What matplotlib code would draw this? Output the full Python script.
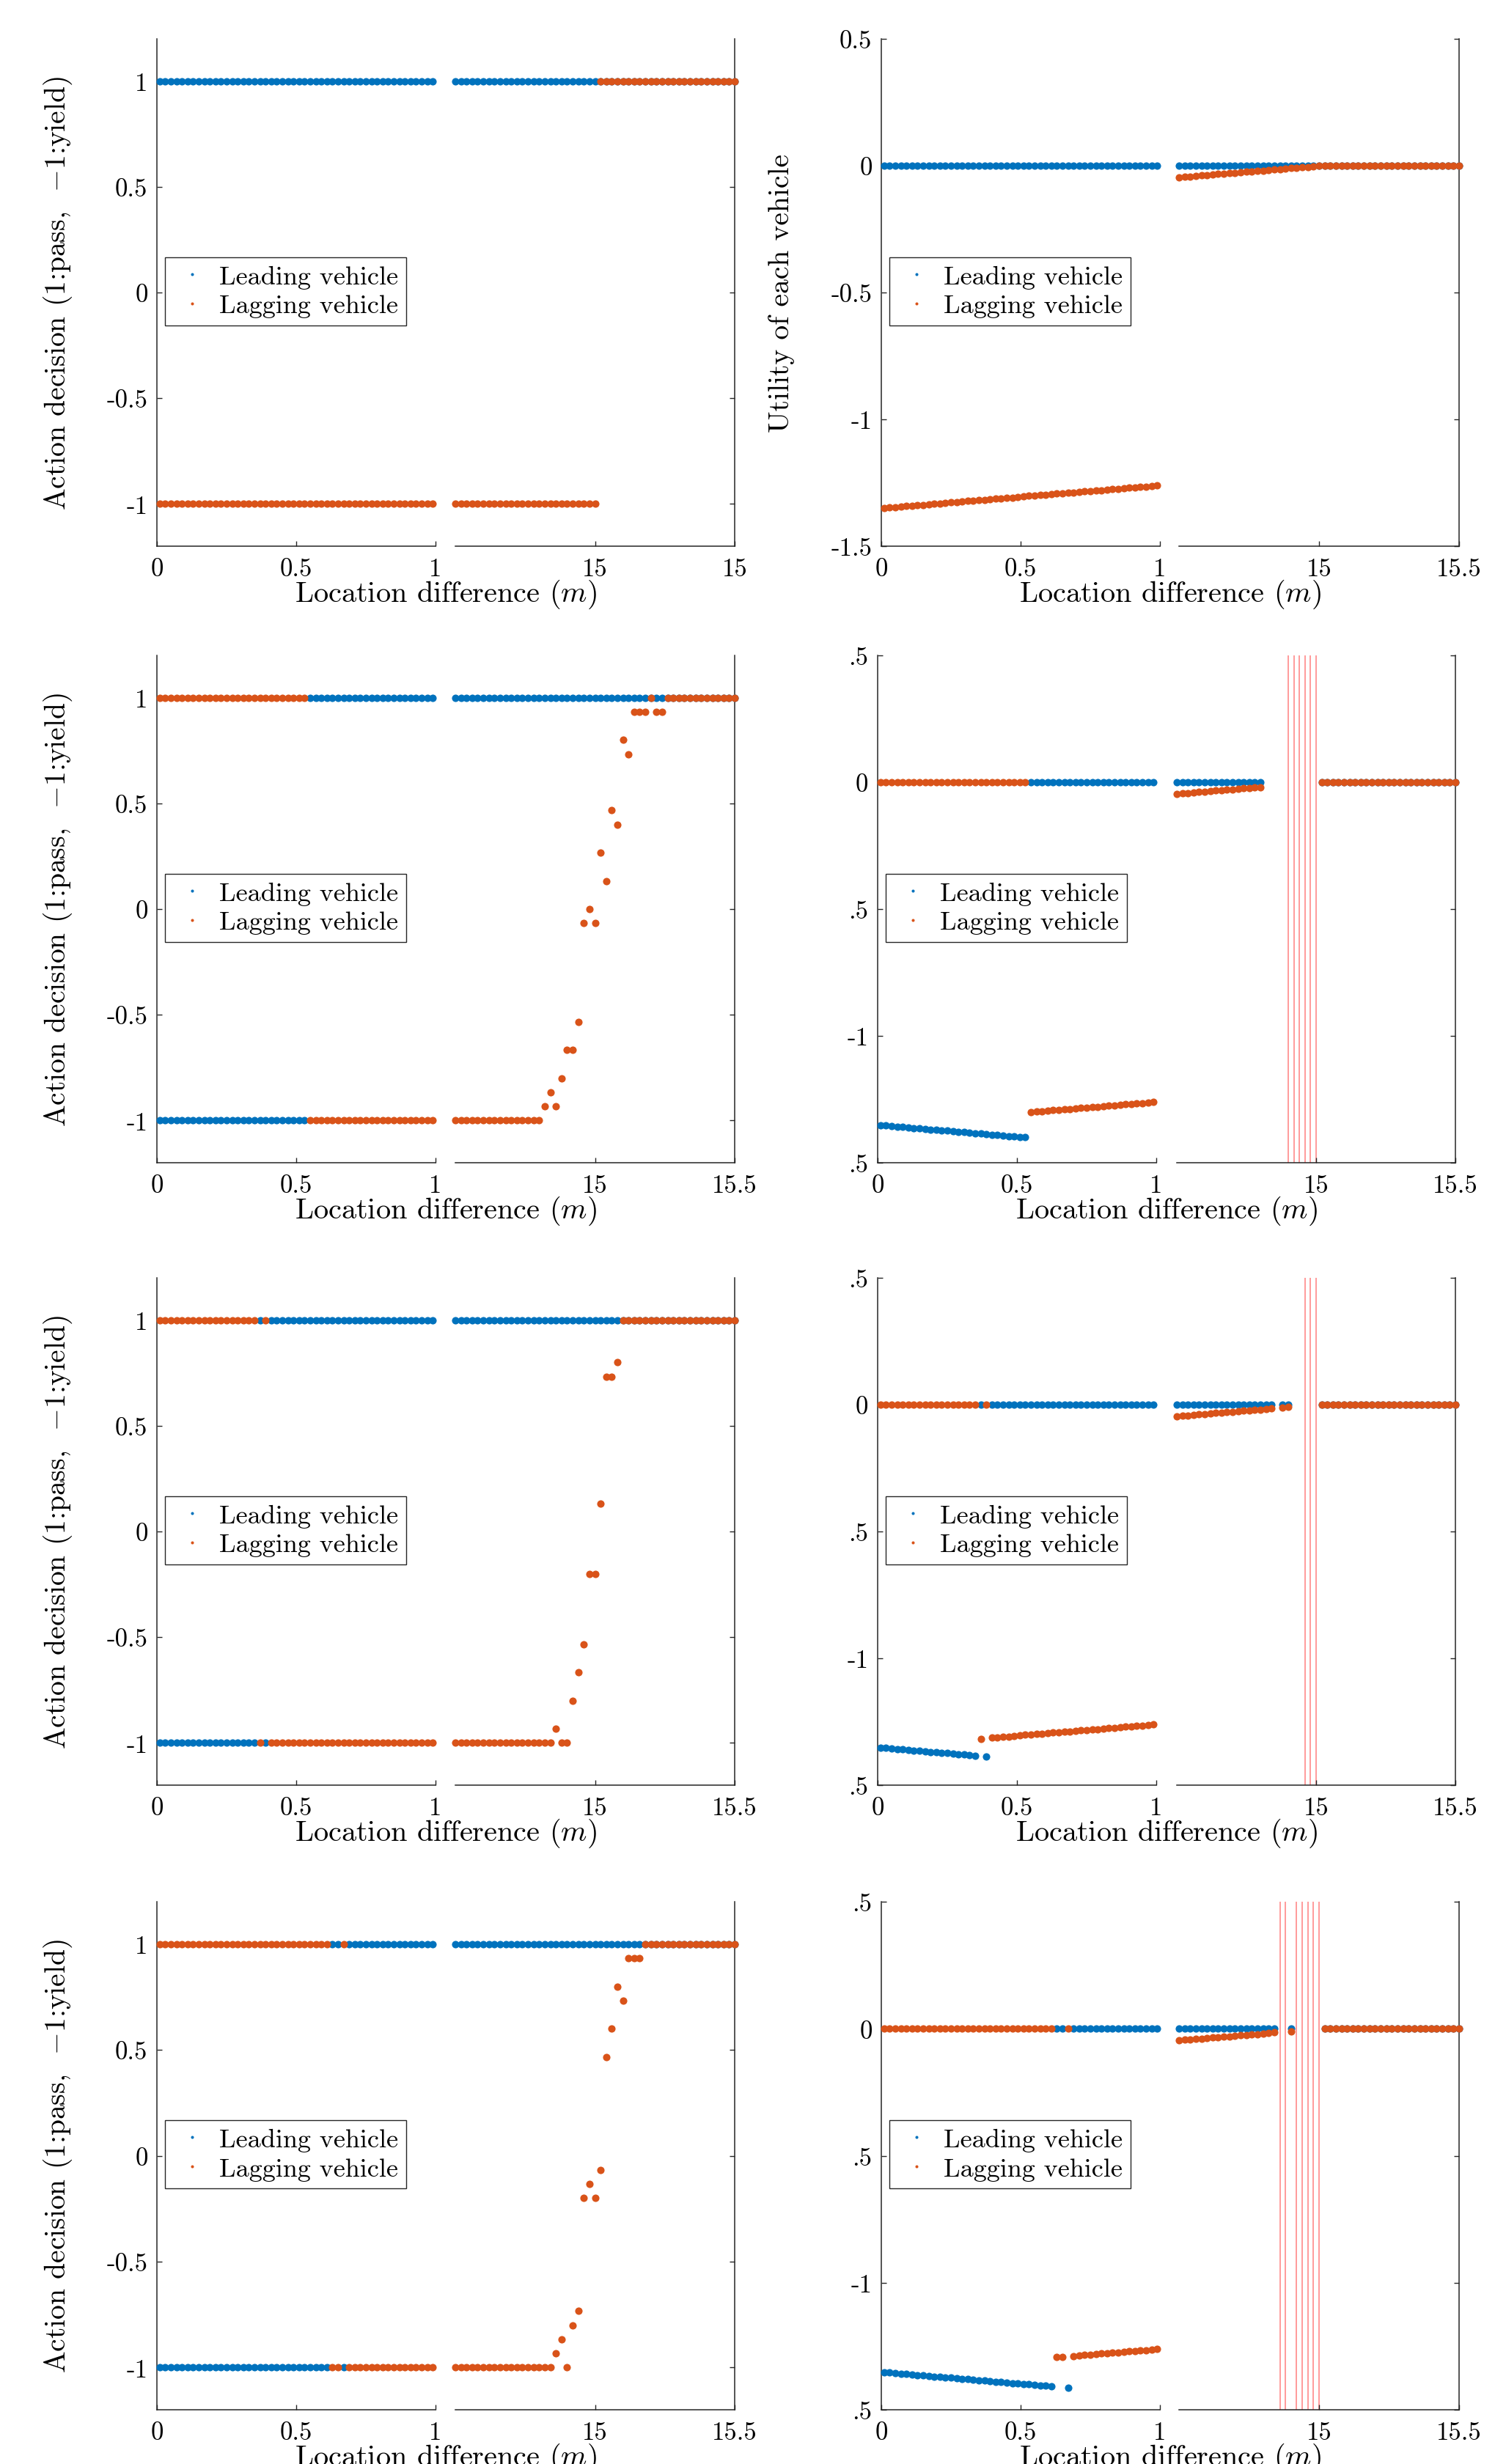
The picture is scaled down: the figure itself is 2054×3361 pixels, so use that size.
import numpy as np
import matplotlib
matplotlib.use('Agg')
import matplotlib.pyplot as plt

plt.rcParams['font.family'] = ['cmr10', 'DejaVu Serif']
plt.rcParams['mathtext.fontset'] = 'cm'
plt.rcParams['axes.unicode_minus'] = False
plt.rcParams['axes.formatter.use_mathtext'] = True

BLUE = '#0072BD'
ORANGE = '#D95319'
RED = '#FF8080'
DARK = '#262626'
nan = np.nan

# ---------------- data ----------------
x_left = [round(0.01 + 0.02 * i, 2) for i in range(50)]      # 0.01 .. 0.99
x_right = [round(14.5 + 0.02 * i, 2) for i in range(51)]     # 14.50 .. 15.50

LEAD_YIELD_UTIL_L = [-1.352, -1.354, -1.356, -1.358, -1.359, -1.361, -1.363, -1.365, -1.367, -1.369,
                     -1.371, -1.372, -1.374, -1.376, -1.378, -1.380, -1.382, -1.384, -1.385, -1.387,
                     -1.389, -1.391, -1.393, -1.395, -1.397, -1.398, -1.400, -1.402, -1.404, -1.406,
                     -1.408, -1.410, -1.411, -1.413]
LAG_YIELD_UTIL_L = [-1.349, -1.347, -1.346, -1.344, -1.342, -1.340, -1.338, -1.337, -1.335, -1.333,
                    -1.331, -1.329, -1.328, -1.326, -1.324, -1.322, -1.320, -1.319, -1.317, -1.315,
                    -1.313, -1.311, -1.310, -1.308, -1.306, -1.304, -1.302, -1.301, -1.299, -1.297,
                    -1.295, -1.293, -1.292, -1.290, -1.288, -1.286, -1.284, -1.283, -1.281, -1.279,
                    -1.277, -1.275, -1.274, -1.272, -1.270, -1.268, -1.266, -1.265, -1.263, -1.261]
LAG_YIELD_UTIL_R = [-0.046, -0.044, -0.042, -0.041, -0.039, -0.037, -0.035, -0.033, -0.032, -0.030,
                    -0.028, -0.026, -0.024, -0.023, -0.021, -0.019, -0.017, -0.015, -0.014, -0.012,
                    -0.010, -0.008, -0.006, -0.005, -0.003, -0.001]

# Row 1
dec1_lead_L = [1] * 50
dec1_lag_L = [-1] * 50
dec1_lead_R = [1] * 51
dec1_lag_R = [-1] * 26 + [1] * 25
ut1_lead_L = [0] * 50
ut1_lag_L = LAG_YIELD_UTIL_L
ut1_lead_R = [0] * 51
ut1_lag_R = LAG_YIELD_UTIL_R + [0] * 25
red1 = []

# Row 2
dec2_lead_L = [-1] * 27 + [1] * 23
dec2_lag_L = [1] * 27 + [-1] * 23
dec2_lead_R = [1] * 51
dec2_lag_R = [-1] * 16 + [-0.933, -0.867, -0.933, -0.8, -0.667, -0.667, -0.533, -0.067, 0, -0.067,
                          0.267, 0.133, 0.467, 0.4, 0.8, 0.733, 0.933, 0.933, 0.933, 1, 0.933, 0.933] + [1] * 13
ut2_lead_L = LEAD_YIELD_UTIL_L[:27] + [0] * 23
ut2_lag_L = [0] * 27 + LAG_YIELD_UTIL_L[27:]
ut2_lead_R = [0] * 16 + [nan] * 10 + [0] * 25
ut2_lag_R = LAG_YIELD_UTIL_R[:16] + [nan] * 10 + [0] * 25
red2 = [14.90, 14.92, 14.94, 14.96, 14.98, 15.00]

# Row 3
dec3_lead_L = [-1] * 18 + [1] + [-1] + [1] * 30
dec3_lag_L = [1] * 18 + [-1] + [1] + [-1] * 30
dec3_lead_R = [1] * 51
dec3_lag_R = [-1] * 18 + [-0.933, -1, -1, -0.8, -0.667, -0.533, -0.2, -0.2, 0.133, 0.733, 0.733, 0.8] + [1] * 21
ut3_lead_L = LEAD_YIELD_UTIL_L[:18] + [0] + [LEAD_YIELD_UTIL_L[19]] + [0] * 30
ut3_lag_L = [0] * 18 + [LAG_YIELD_UTIL_L[18]] + [0] + LAG_YIELD_UTIL_L[20:]
ut3_lead_R = [0] * 18 + [nan] + [0, 0] + [nan] * 5 + [0] * 25
ut3_lag_R = LAG_YIELD_UTIL_R[:18] + [nan] + LAG_YIELD_UTIL_R[19:21] + [nan] * 5 + [0] * 25
red3 = [14.96, 14.98, 15.00]

# Row 4
dec4_lead_L = [-1] * 31 + [1, 1] + [-1] + [1] * 16
dec4_lag_L = [1] * 31 + [-1, -1] + [1] + [-1] * 16
dec4_lead_R = [1] * 51
dec4_lag_R = [-1] * 18 + [-0.933, -0.867, -1, -0.8, -0.733, -0.2, -0.133, -0.2, -0.067, 0.467,
                          0.6, 0.8, 0.733, 0.933, 0.933, 0.933] + [1] * 17
ut4_lead_L = LEAD_YIELD_UTIL_L[:31] + [0, 0] + [LEAD_YIELD_UTIL_L[33]] + [0] * 16
ut4_lag_L = [0] * 31 + LAG_YIELD_UTIL_L[31:33] + [0] + LAG_YIELD_UTIL_L[34:]
ut4_lead_R = [0] * 18 + [nan, nan] + [0] + [nan] * 5 + [0] * 25
ut4_lag_R = LAG_YIELD_UTIL_R[:18] + [nan, nan] + [LAG_YIELD_UTIL_R[20]] + [nan] * 5 + [0] * 25
red4 = [14.86, 14.88, 14.92, 14.94, 14.96, 14.98, 15.00]

dec_rows = [
    (dec1_lead_L, dec1_lag_L, dec1_lead_R, dec1_lag_R),
    (dec2_lead_L, dec2_lag_L, dec2_lead_R, dec2_lag_R),
    (dec3_lead_L, dec3_lag_L, dec3_lead_R, dec3_lag_R),
    (dec4_lead_L, dec4_lag_L, dec4_lead_R, dec4_lag_R),
]
ut_rows = [
    (ut1_lead_L, ut1_lag_L, ut1_lead_R, ut1_lag_R),
    (ut2_lead_L, ut2_lag_L, ut2_lead_R, ut2_lag_R),
    (ut3_lead_L, ut3_lag_L, ut3_lead_R, ut3_lag_R),
    (ut4_lead_L, ut4_lag_L, ut4_lead_R, ut4_lag_R),
]
red_rows = [red1, red2, red3, red4]

dec_yticks = [-1, -0.5, 0, 0.5, 1]
dec_yticklabels = ['-1', '-0.5', '0', '0.5', '1']
ut_yticks = [-1.5, -1, -0.5, 0, 0.5]
ut_yticklabels_full = ['-1.5', '-1', '-0.5', '0', '0.5']
ut_yticklabels_cut = ['.5', '-1', '.5', '0', '.5']
xl_ticks = [0, 0.5, 1]
xl_labels = ['0', '0.5', '1']
xr_ticks = [15, 15.5]

legend_labels = ['Leading vehicle', 'Lagging vehicle']
xlabel_text = r'Location difference $(m)$'
ylabel_dec = r'Action decision (1:pass,  $-$1:yield)'
ylabel_ut = 'Utility of each vehicle'

# ---------------- layout (pixels) ----------------
W, H = 2054, 3362
fig = plt.figure(figsize=(W / 100, H / 100), dpi=100)

rows_y = [(54, 746), (895, 1587), (1744, 2436), (2595, 3288)]
left_col_x = (214, 594, 621, 1002)
right_col_x = [(1202, 1582, 1608, 1990), (1197, 1577, 1605, 1985),
               (1197, 1577, 1605, 1985), (1202, 1582, 1608, 1990)]

MS = 7.3


def add_px_axes(x0, x1, ytop, ybot):
    return fig.add_axes([x0 / W, 1 - ybot / H, (x1 - x0) / W, (ybot - ytop) / H])


def style_axes(ax, side):
    for s in ax.spines.values():
        s.set_color(DARK)
        s.set_linewidth(1.1)
    ax.spines['top'].set_visible(False)
    if side == 'left':
        ax.spines['right'].set_visible(False)
        ax.yaxis.set_ticks_position('left')
    else:
        ax.spines['left'].set_visible(False)
        ax.yaxis.set_ticks_position('right')
        ax.tick_params(axis='y', labelright=False, labelleft=False)
    ax.xaxis.set_ticks_position('bottom')
    ax.tick_params(direction='in', length=5, width=1.0, colors=DARK,
                   labelcolor='black', labelsize=25)
    ax.tick_params(axis='x', pad=11)
    ax.tick_params(axis='y', pad=9)
    ax.set_facecolor('none')


def draw_panel(x0a, x1a, x0b, x1b, ytop, ybot, series, ylim, yticks, yticklabels,
               xr_labels, reds, ylabel, ylabel_x):
    lead_L, lag_L, lead_R, lag_R = series
    axL = add_px_axes(x0a, x1a, ytop, ybot)
    axR = add_px_axes(x0b, x1b, ytop, ybot)
    for ax in (axL, axR):
        ax.set_ylim(*ylim)
    axL.set_xlim(0, 1)
    axR.set_xlim(14.5, 15.5)
    for xv in reds:
        axR.axvline(xv, color=RED, lw=1.1, zorder=1)
    h1, = axL.plot(x_left, lead_L, 'o', color=BLUE, ms=MS, mew=0, ls='none', clip_on=False, zorder=3)
    h2, = axL.plot(x_left, lag_L, 'o', color=ORANGE, ms=MS, mew=0, ls='none', clip_on=False, zorder=4)
    axR.plot(x_right, lead_R, 'o', color=BLUE, ms=MS, mew=0, ls='none', clip_on=False, zorder=3)
    axR.plot(x_right, lag_R, 'o', color=ORANGE, ms=MS, mew=0, ls='none', clip_on=False, zorder=4)

    style_axes(axL, 'left')
    style_axes(axR, 'right')
    axL.set_yticks(yticks)
    axL.set_yticklabels(yticklabels)
    axR.set_yticks(yticks)
    axL.set_xticks(xl_ticks)
    axL.set_xticklabels(xl_labels)
    axR.set_xticks(xr_ticks)
    axR.set_xticklabels(xr_labels)

    leg = axL.legend([h1, h2], legend_labels, loc='upper left', bbox_to_anchor=(0.03, 0.57),
                     borderaxespad=0, fontsize=26, frameon=True, fancybox=False,
                     edgecolor=DARK, framealpha=1, borderpad=0.3, handlelength=1.4,
                     handletextpad=0.35, labelspacing=0.2, markerscale=0.4)
    leg.get_frame().set_linewidth(1.0)

    # x label centred under the broken axis
    xc = (x0a + x1b) / 2
    fig.text(xc / W, 1 - (ybot + 65) / H, xlabel_text, ha='center', va='center', fontsize=29)
    if ylabel:
        fig.text(ylabel_x / W, 1 - ((ytop + ybot) / 2) / H, ylabel, ha='center', va='center',
                 rotation=90, fontsize=28.5)


for r in range(4):
    ytop, ybot = rows_y[r]
    # decision (left column)
    xr_lab = ['15', '15'] if r == 0 else ['15', '15.5']
    draw_panel(*left_col_x, ytop, ybot, dec_rows[r], (-1.2, 1.2), dec_yticks, dec_yticklabels,
               xr_lab, [], ylabel_dec, 79)
    # utility (right column)
    ylbls = ut_yticklabels_full if r == 0 else ut_yticklabels_cut
    draw_panel(*right_col_x[r], ytop, ybot, ut_rows[r], (-1.5, 0.5), ut_yticks, ylbls,
               ['15', '15.5'], red_rows[r], ylabel_ut if r == 0 else None, 1066)

fig.savefig('out.png', dpi=100, facecolor='white')
